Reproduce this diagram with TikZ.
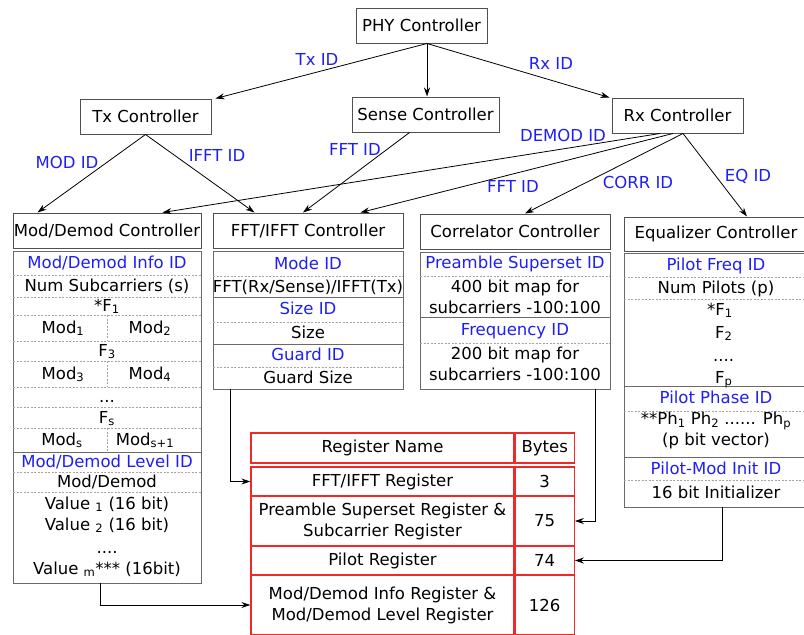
\documentclass[tikz,border=0pt]{standalone}
\usepackage{fontspec}
\setmainfont{DejaVu Sans}
\usepackage{tikz}
\usetikzlibrary{arrows.meta, positioning}
\definecolor{idblue}{RGB}{30, 30, 245}
\definecolor{framegray}{RGB}{80, 80, 80}
\definecolor{rowgray}{RGB}{165, 165, 165}
\definecolor{regred}{RGB}{240, 40, 40}

\begin{document}
\begin{tikzpicture}[
    x=1pt, y=-1pt, >={Stealth[length=9pt, width=6pt]},
    font=\fontsize{16.5}{21}\selectfont,
    ctrl/.style={rectangle, draw=framegray, line width=1pt, inner sep=0pt, minimum height=35pt},
    tablebox/.style={rectangle, draw=framegray!85, line width=0.9pt, inner sep=0pt},
    cell/.style={inner sep=0pt, text height=11.5pt, text depth=1.5pt},
    idtext/.style={cell, text=idblue},
    twoline/.style={inner sep=0pt, align=center},
    rowsep/.style={draw=rowgray, dash pattern=on 2pt off 1.5pt, line width=0.6pt},
    rowrule/.style={draw=framegray!85, line width=0.9pt},
    reg/.style={rectangle, draw=regred, line width=1.2pt, inner sep=0pt, align=center},
    line/.style={draw, ->, line width=0.8pt, black}
  ]
    \useasboundingbox (0,0) rectangle (804,635);

    % controllers
    \node (phy) [ctrl, minimum width=131pt] at (421.5,25.5) {PHY Controller};
    \node (tx) [ctrl, minimum width=131pt] at (145.5,116.5) {Tx Controller};
    \node (sense) [ctrl, minimum width=147pt] at (425.5,114.5) {Sense Controller};
    \node (rx) [ctrl, minimum width=131pt] at (677.5,115.5) {Rx Controller};
    \node (modc) [ctrl, minimum width=188pt] at (107,230.5) {Mod/Demod Controller};
    \node (fftc) [ctrl, minimum width=190pt] at (308,230.5) {FFT/IFFT Controller};
    \node (corrc) [ctrl, minimum width=190pt] at (515,231.5) {Correlator Controller};
    \node (eqc) [ctrl, minimum width=184pt, minimum height=34pt] at (716,234) {Equalizer Controller};

    \draw[line] ([xshift=5.5pt]phy.south) -- ([xshift=4pt]tx.north east);
    \draw[line] ([xshift=5.5pt]phy.south) -- ([xshift=1.5pt]sense.north);
    \draw[line] ([xshift=5.5pt]phy.south) -- ([xshift=-2pt]rx.north west);
    \draw[line] (tx.south) -- ([xshift=25pt]modc.north west);
    \draw[line] (tx.south) -- ([xshift=42pt]fftc.north west);
    \draw[line] ([xshift=-16pt]sense.south) -- ([xshift=-5pt]fftc.north);
    \draw[line] ([xshift=-17.5pt]rx.south) -- ([xshift=-39pt]modc.north east);
    \draw[line] ([xshift=-4.5pt]rx.south) -- ([xshift=-43pt]fftc.north east);
    \draw[line] ([xshift=5.5pt]rx.south) -- ([xshift=10pt]corrc.north);
    \draw[line] ([xshift=5.5pt]rx.south) -- ([xshift=31pt]eqc.north);

    \node (txid) [idtext] at (317,60) {Tx ID};
    \node (rxid) [idtext] at (551,64) {Rx ID};
    \node (modid) [idtext] at (67,163) {MOD ID};
    \node (ifftid) [idtext] at (217,156) {IFFT ID};
    \node (senseid) [idtext] at (355,150) {FFT ID};
    \node (demodid) [idtext] at (563,136) {DEMOD ID};
    \node (rxfftid) [idtext] at (513,187) {FFT ID};
    \node (corrid) [idtext] at (638,183) {CORR ID};
    \node (eqid) [idtext] at (748,176) {EQ ID};

    % Mod/Demod fields
    \node (modt) [tablebox, minimum width=188pt, minimum height=332pt] at (107,417) {};
    \foreach \y in {275,297,315,341,361,387,407,428,472,492}
      \draw[rowsep] (13,\y) -- (201,\y);
    \draw[rowsep] (107,315) -- (107,341) (107,361) -- (107,387) (107,428) -- (107,452);
    \draw[rowrule] (13,452) -- (201,452);
    \node (modinfo) [idtext] at (107,263) {Mod/Demod Info ID};
    \node (numsub) [cell] at (107,286) {Num Subcarriers (s)};
    \node (mfa) [cell] at (107,306) {*F\textsubscript{1}};
    \node (moda) [cell] at (63,328) {Mod\textsubscript{1}};
    \node (modb) [cell] at (150,328) {Mod\textsubscript{2}};
    \node (mfc) [cell] at (107,351) {F\textsubscript{3}};
    \node (modcc) [cell] at (63,374) {Mod\textsubscript{3}};
    \node (modd) [cell] at (150,374) {Mod\textsubscript{4}};
    \node (mdots) [cell] at (107,397) {...};
    \node (mfs) [cell] at (107,418) {F\textsubscript{s}};
    \node (mods) [cell] at (62,440) {Mod\textsubscript{s}};
    \node (modsn) [cell] at (145,440) {Mod\textsubscript{s+1}};
    \node (modlevel) [idtext] at (107,462) {Mod/Demod Level ID};
    \node (modval) [cell] at (107,482) {Mod/Demod};
    \node (vala) [cell] at (107,504) {Value \textsubscript{1} (16 bit)};
    \node (valb) [cell] at (107,525) {Value \textsubscript{2} (16 bit)};
    \node (vdots) [cell] at (107,548) {....};
    \node (valm) [cell] at (107,569) {Value \textsubscript{m}*** (16bit)};

    % FFT/IFFT fields
    \node (fftt) [tablebox, minimum width=190pt, minimum height=138pt] at (308,320) {};
    \foreach \y in {276,322,367}
      \draw[rowsep] (213,\y) -- (403,\y);
    \draw[rowrule] (213,297) -- (403,297) (213,344) -- (403,344);
    \node (modeid) [idtext] at (308,264) {Mode ID};
    \node (mode) [cell] at (308,287) {FFT(Rx/Sense)/IFFT(Tx)};
    \node (sizeid) [idtext] at (308,309) {Size ID};
    \node (size) [cell] at (308,333) {Size};
    \node (guardid) [idtext] at (308,355) {Guard ID};
    \node (guard) [cell] at (308,378) {Guard Size};

    % Correlator fields
    \node (corrt) [tablebox, minimum width=190pt, minimum height=137pt] at (515,320.5) {};
    \foreach \y in {276,343}
      \draw[rowsep] (420,\y) -- (610,\y);
    \draw[rowrule] (420,317) -- (610,317);
    \node (preid) [idtext] at (515,263) {Preamble Superset ID};
    \node (premap) [twoline] at (515,297) {400 bit map for\\subcarriers -100:100};
    \node (freqid) [idtext] at (515,330) {Frequency ID};
    \node (freqmap) [twoline] at (515,364) {200 bit map for\\subcarriers -100:100};

    % Equalizer fields
    \node (eqt) [tablebox, minimum width=184pt, minimum height=254pt] at (716,380) {};
    \foreach \y in {277,299,411,480}
      \draw[rowsep] (624,\y) -- (808,\y);
    \draw[rowrule] (624,386) -- (808,386) (624,457) -- (808,457);
    \node (pfreqid) [idtext] at (716,265) {Pilot Freq ID};
    \node (numpil) [cell] at (716,288) {Num Pilots (p)};
    \node (efa) [cell, anchor=west] at (707,310) {*F\textsubscript{1}};
    \node (efb) [cell, anchor=west] at (715,333) {F\textsubscript{2}};
    \node (edots) [cell, anchor=west] at (713,356) {....};
    \node (efp) [cell, anchor=west] at (715,378) {F\textsubscript{p}};
    \node (phaseid) [idtext] at (716,398) {Pilot Phase ID};
    \node (phase) [twoline] at (716,430.5) {**Ph\textsubscript{1} Ph\textsubscript{2} ...... Ph\textsubscript{p}\\(p bit vector)};
    \node (initid) [idtext] at (716,469) {Pilot-Mod Init ID};
    \node (init) [cell] at (716,493) {16 bit Initializer};

    % register table
    \node (regname) [reg, minimum width=263pt, minimum height=30pt] at (382.5,448) {Register Name};
    \node (regbytes) [reg, minimum width=59pt, minimum height=30pt, right=0pt of regname] {Bytes};
    \node (fftreg) [reg, minimum width=263pt, minimum height=29pt] at (382.5,481.5) {FFT/IFFT Register};
    \node (fftbytes) [reg, minimum width=59pt, minimum height=29pt, right=0pt of fftreg] {3};
    \node (prereg) [reg, minimum width=263pt, minimum height=50pt] at (382.5,521) {Preamble Superset Register \&\\Subcarrier Register};
    \node (prebytes) [reg, minimum width=59pt, minimum height=50pt, right=0pt of prereg] {75};
    \node (pilreg) [reg, minimum width=263pt, minimum height=29pt] at (382.5,560.5) {Pilot Register};
    \node (pilbytes) [reg, minimum width=59pt, minimum height=29pt, right=0pt of pilreg] {74};
    \node (modreg) [reg, minimum width=263pt, minimum height=60pt] at (382.5,605) {Mod/Demod Info Register \&\\Mod/Demod Level Register};
    \node (modbytes) [reg, minimum width=59pt, minimum height=60pt, right=0pt of modreg] {126};

    \draw[line] ([xshift=-78pt]fftt.south) |- (fftreg.west);
    \draw[line] ([xshift=80pt]corrt.south) |- (prebytes.east);
    \draw[line] ([xshift=6pt]eqt.south) |- (pilbytes.east);
    \draw[line] ([xshift=-7pt]modt.south) |- (modreg.west);
  \end{tikzpicture}
\end{document}
